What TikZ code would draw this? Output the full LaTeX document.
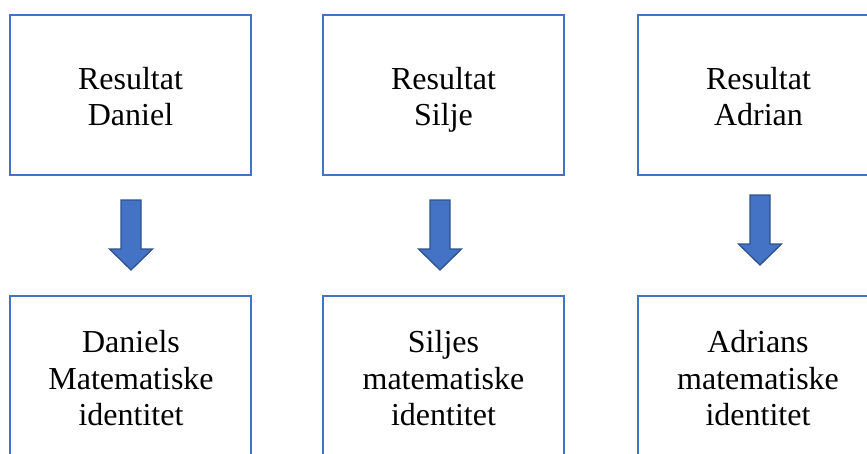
\documentclass[tikz,border=0pt]{standalone}
\usepackage{fontspec}
\setmainfont{Liberation Serif}
\definecolor{boxblue}{HTML}{4472C4}
\definecolor{arrowedge}{HTML}{2F528F}
\tikzset{
  resbox/.style={draw=boxblue, line width=2pt, fill=white, minimum width=241pt, minimum height=160pt, inner sep=0pt, outer sep=0pt},
  boxtext/.style={font=\fontsize{32}{36.5}\selectfont, align=center, inner sep=0pt, text=black},
  barrow/.pic={\draw[fill=boxblue, draw=arrowedge, line width=1.3pt, line join=miter] (-10,0) -- (10,0) -- (10,49) -- (21.5,49) -- (0,70) -- (-21.5,49) -- (-10,49) -- cycle;}
}
\begin{document}
\begin{tikzpicture}[x=1pt, y=-1pt]
\useasboundingbox (0,0) rectangle (867,453);
\clip (0,0) rectangle (867,453);
\fill[white] (0,0) rectangle (867,453);
% top boxes
\node[resbox] (r1) at (130.5,95) {};
\node[resbox] (r2) at (443.5,95) {};
\node[resbox] (r3) at (758.5,95) {};
% bottom boxes
\node[resbox] (m1) at (130.5,376) {};
\node[resbox] (m2) at (443.5,376) {};
\node[resbox] (m3) at (758.5,376) {};
% texts
\node[boxtext] (t1) at (130.5,100) {\vphantom{lj}Resultat\\Daniel\vphantom{lj}};
\node[boxtext] (t2) at (443.5,100) {\vphantom{lj}Resultat\\Silje\vphantom{lj}};
\node[boxtext] (t3) at (758.5,100) {\vphantom{lj}Resultat\\Adrian\vphantom{lj}};
\node[boxtext] (u1) at (131,381.5) {\vphantom{lj}Daniels\\Matematiske\\identitet\vphantom{lj}};
\node[boxtext] (u2) at (443.5,381.5) {\vphantom{lj}Siljes\\matematiske\\identitet\vphantom{lj}};
\node[boxtext] (u3) at (758,381.5) {\vphantom{lj}Adrians\\matematiske\\identitet\vphantom{lj}};
% block arrows
\coordinate (a1) at (131,200);
\coordinate (a2) at (440,200);
\coordinate (a3) at (760,195);
\pic at (a1) {barrow};
\pic at (a2) {barrow};
\pic at (a3) {barrow};
\end{tikzpicture}
\end{document}
